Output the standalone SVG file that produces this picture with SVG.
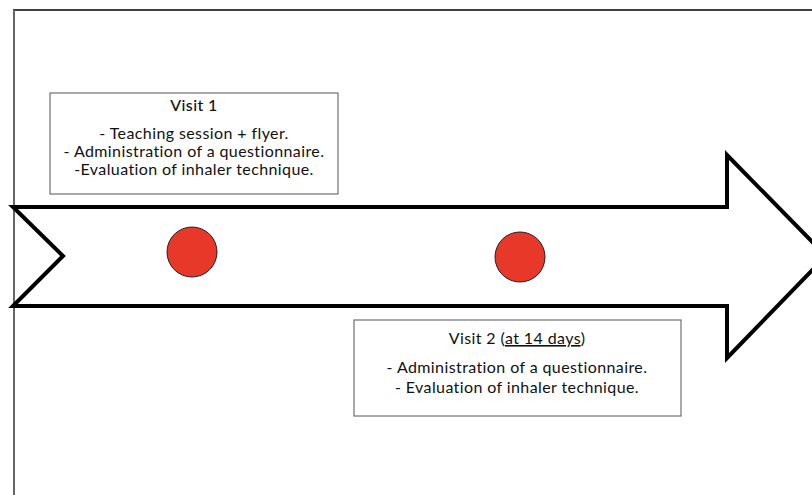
<svg xmlns="http://www.w3.org/2000/svg" width="812" height="495" viewBox="0 0 812 495">
<style>
.box{fill:#fff;stroke:#555;stroke-width:1}
.t{font-family:Lato,"Open Sans","Liberation Sans",sans-serif;font-size:16px;letter-spacing:0.4px;fill:#111;text-anchor:middle}
.dot{fill:#e8382a;stroke:#222;stroke-width:1}
</style>
<rect width="812" height="495" fill="#fff"/>
<g id="frame">
<line x1="13" y1="10" x2="812" y2="10" stroke="#000" stroke-width="1.5"/>
<line x1="14" y1="10" x2="14" y2="495" stroke="#666" stroke-width="2"/>
</g>
<g id="connectors">
<path d="M13,207 L727,207 L727,155 L826,256 L727,358 L727,306 L13,306 L63,256 Z" fill="#fff" stroke="#000" stroke-width="4" stroke-linejoin="miter"/>
</g>
<g id="dot1"><circle class="dot" cx="192" cy="252" r="25"/></g>
<g id="dot2"><circle class="dot" cx="520" cy="257" r="25"/></g>
<g id="visit1">
<rect class="box" x="50" y="93" width="288" height="101"/>
<text class="t" x="194" y="111" font-weight="500">Visit 1</text>
<text class="t" x="194" y="139">- Teaching session + flyer.</text>
<text class="t" x="194" y="157">- Administration of a questionnaire.</text>
<text class="t" x="194" y="175">-Evaluation of inhaler technique.</text>
</g>
<g id="visit2">
<rect class="box" x="354" y="320" width="327" height="96"/>
<text class="t" x="517" y="344">Visit 2 (<tspan text-decoration="underline">at 14 days</tspan>)</text>
<text class="t" x="517" y="373">- Administration of a questionnaire.</text>
<text class="t" x="517" y="393">- Evaluation of inhaler technique.</text>
</g>
</svg>
